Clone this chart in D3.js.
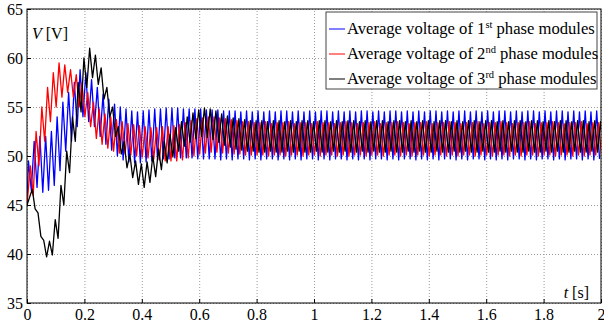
<!DOCTYPE html>
<html>
<head>
<meta charset="utf-8">
<script src="https://cdn.jsdelivr.net/npm/d3@7"></script>
<style>
	body { margin: 0; background: #fff; }
	svg { display: block; }
	text { font-family: 'Liberation Serif', 'DejaVu Serif', serif; }
</style>
</head>
<body>
<script>
// axis ticks
const timeTicks = [0, 0.2, 0.4, 0.6, 0.8, 1, 1.2, 1.4, 1.6, 1.8, 2];
const voltTicks = [35, 40, 45, 50, 55, 60, 65];

// one peak and one trough per 20 ms cycle
const period = 0.02;
const startVoltage = [45, 45, 45];

const bluePeaks = [
	49.5, 51.5, 52, 52, 52.5, 54, 55.5, 56.5, 57.5, 58.8,
	58.5, 57.8, 57, 56.3, 55.8, 55.3, 55, 54.8, 54.6, 54.5,
	54.6, 54.7, 54.8, 54.8, 54.9, 54.9, 54.9, 54.8, 54.8, 54.8,
	54.8, 54.7, 54.7, 54.7, 54.6, 54.6, 54.6, 54.5, 54.6, 54.5,
	54.6, 54.5, 54.6, 54.5, 54.6, 54.6, 54.5, 54.6, 54.5, 54.6,
	54.5, 54.6, 54.6, 54.5, 54.6, 54.5, 54.6, 54.5, 54.6, 54.6,
	54.5, 54.6, 54.5, 54.6, 54.6, 54.5, 54.6, 54.5, 54.6, 54.5,
	54.6, 54.6, 54.5, 54.6, 54.5, 54.6, 54.6, 54.5, 54.6, 54.5,
	54.6, 54.5, 54.6, 54.6, 54.5, 54.6, 54.5, 54.6, 54.6, 54.5,
	54.6, 54.5, 54.6, 54.6, 54.5, 54.6, 54.5, 54.6, 54.5, 54.6
];
const blueTroughs = [
	46.5, 46.8, 46.3, 46.5, 47, 48.5, 50.5, 51.5, 53, 54,
	53.5, 53, 52, 51.2, 50.6, 50, 49.6, 49.4, 49.3, 49.3,
	49.4, 49.5, 49.6, 49.7, 49.7, 49.8, 49.8, 49.8, 49.8, 49.7,
	49.7, 49.7, 49.7, 49.6, 49.7, 49.6, 49.7, 49.7, 49.6, 49.7,
	49.6, 49.7, 49.7, 49.6, 49.7, 49.6, 49.7, 49.6, 49.7, 49.7,
	49.6, 49.7, 49.6, 49.7, 49.7, 49.6, 49.7, 49.6, 49.7, 49.6,
	49.7, 49.7, 49.6, 49.7, 49.6, 49.7, 49.7, 49.6, 49.7, 49.6,
	49.7, 49.6, 49.7, 49.7, 49.6, 49.7, 49.6, 49.7, 49.7, 49.6,
	49.7, 49.6, 49.7, 49.6, 49.7, 49.7, 49.6, 49.7, 49.6, 49.7,
	49.7, 49.6, 49.7, 49.6, 49.7, 49.7, 49.6, 49.7, 49.6, 49.7
];

const redPeaks = [
	49, 52.5, 55, 57, 58.5, 59.5, 59.3, 58.8, 58.3, 57.5,
	56.5, 55.5, 54.8, 54.3, 54, 53.7, 53.5, 53.3, 53.2, 53.1,
	53, 52.9, 52.9, 53, 53, 53.1, 53.2, 53.4, 53.6, 53.8,
	53.9, 54, 54, 53.9, 53.8, 53.7, 53.6, 53.5, 53.5, 53.4,
	53.4, 53.5, 53.3, 53.4, 53.4, 53.5, 53.3, 53.4, 53.4, 53.3,
	53.5, 53.4, 53.4, 53.3, 53.4, 53.5, 53.4, 53.3, 53.4, 53.4,
	53.5, 53.3, 53.4, 53.4, 53.5, 53.4, 53.3, 53.4, 53.4, 53.5,
	53.3, 53.4, 53.4, 53.5, 53.4, 53.3, 53.4, 53.4, 53.5, 53.3,
	53.4, 53.4, 53.5, 53.4, 53.3, 53.4, 53.4, 53.5, 53.3, 53.4,
	53.4, 53.5, 53.4, 53.3, 53.4, 53.4, 53.5, 53.3, 53.4, 53.4
];
const redTroughs = [
	46, 49, 51.5, 53.5, 55, 56, 56.5, 56, 55, 54,
	53, 51.8, 51.2, 50.8, 50.5, 50.3, 50.2, 50.1, 50, 49.9,
	49.8, 49.7, 49.6, 49.5, 49.5, 49.5, 49.6, 49.8, 50, 50.2,
	50.3, 50.4, 50.4, 50.3, 50.3, 50.2, 50.2, 50.1, 50.1, 50.1,
	50.1, 50, 50.1, 50.1, 50, 50.1, 50.1, 50, 50.1, 50.1,
	50, 50.1, 50.1, 50, 50.1, 50, 50.1, 50.1, 50, 50.1,
	50.1, 50, 50.1, 50.1, 50, 50.1, 50, 50.1, 50.1, 50,
	50.1, 50.1, 50, 50.1, 50, 50.1, 50.1, 50, 50.1, 50.1,
	50, 50.1, 50.1, 50, 50.1, 50, 50.1, 50.1, 50, 50.1,
	50.1, 50, 50.1, 50.1, 50, 50.1, 50, 50.1, 50.1, 50
];

const blackPeaks = [
	46.6, 44.2, 41.4, 41.3, 43.5, 47, 50.5, 54, 57.5, 60,
	61, 60.3, 59, 57, 55, 53, 51.5, 50.2, 49.5, 49.2,
	49.4, 50, 50.7, 51.5, 52.2, 52.9, 53.5, 54, 54.4, 54.7,
	54.9, 54.8, 54.6, 54.3, 54.1, 53.9, 53.8, 53.7, 53.6, 53.6,
	53.6, 53.5, 53.6, 53.6, 53.5, 53.6, 53.5, 53.6, 53.6, 53.5,
	53.6, 53.6, 53.5, 53.6, 53.5, 53.6, 53.6, 53.5, 53.6, 53.5,
	53.6, 53.6, 53.5, 53.6, 53.6, 53.5, 53.6, 53.5, 53.6, 53.6,
	53.5, 53.6, 53.6, 53.5, 53.6, 53.5, 53.6, 53.6, 53.5, 53.6,
	53.6, 53.5, 53.6, 53.5, 53.6, 53.6, 53.5, 53.6, 53.6, 53.5,
	53.6, 53.5, 53.6, 53.6, 53.5, 53.6, 53.6, 53.5, 53.6, 53.5
];
const blackTroughs = [
	44.6, 41.8, 39.7, 39.9, 41.6, 45, 48.3, 51.5, 54.5, 57,
	58, 57.3, 55.8, 54, 52, 50.2, 48.8, 47.8, 47.1, 46.8,
	47.3, 47.9, 48.6, 49.3, 49.9, 50.5, 51, 51.4, 51.8, 52,
	51.9, 51.7, 51.4, 51.1, 50.9, 50.7, 50.6, 50.5, 50.5, 50.4,
	50.4, 50.5, 50.4, 50.4, 50.5, 50.4, 50.5, 50.4, 50.4, 50.5,
	50.4, 50.4, 50.5, 50.4, 50.5, 50.4, 50.4, 50.5, 50.4, 50.5,
	50.4, 50.4, 50.5, 50.4, 50.4, 50.5, 50.4, 50.5, 50.4, 50.4,
	50.5, 50.4, 50.4, 50.5, 50.4, 50.5, 50.4, 50.4, 50.5, 50.4,
	50.4, 50.5, 50.4, 50.5, 50.4, 50.4, 50.5, 50.4, 50.4, 50.5,
	50.4, 50.5, 50.4, 50.4, 50.5, 50.4, 50.4, 50.5, 50.4, 50.5
];

const seriesNames = ['1', '2', '3'];
const seriesSup = ['st', 'nd', 'rd'];
const seriesColors = ['#0000ff', '#ff0000', '#000000'];
const seriesPhase = [0, 1 / 3, 2 / 3];

const width = 604;
const height = 325;
const margin = { left: 27, right: 3, top: 9, bottom: 22 };
const plotW = width - margin.left - margin.right;
const plotH = height - margin.top - margin.bottom;
const serif = 'Liberation Serif, DejaVu Serif, serif';

const svg = d3.select('body')
	.append('svg')
	.attr('xmlns', 'http://www.w3.org/2000/svg')
	.attr('width', width)
	.attr('height', height);

const g = svg.append('g')
	.attr('transform', 'translate(' + margin.left + ',' + margin.top + ')');

const xScale = d3.scaleLinear().domain([0, 2]).range([0, plotW]);
const yScale = d3.scaleLinear().domain([35, 65]).range([plotH, 0]);

// grid
const xGrid = d3.axisBottom(xScale).tickValues(timeTicks).tickSize(-plotH).tickFormat(() => '');
const yGrid = d3.axisLeft(yScale).tickValues(voltTicks).tickSize(-plotW).tickFormat(() => '');
g.append('g').attr('transform', 'translate(0,' + plotH + ')').call(xGrid)
	.call((s) => s.select('.domain').remove())
	.selectAll('line').attr('stroke', '#9a9a9a').attr('stroke-dasharray', '1,2');
g.append('g').call(yGrid)
	.call((s) => s.select('.domain').remove())
	.selectAll('line').attr('stroke', '#9a9a9a').attr('stroke-dasharray', '1,2');

// series
g.append('clipPath').attr('id', 'plotClip')
	.append('rect').attr('width', plotW).attr('height', plotH);

function buildSeries(i, peaks, troughs) {
	const pts = [[0, startVoltage[i]]];
	for (let k = 0; k < peaks.length; k++) {
		pts.push([(k + seriesPhase[i] + 0.25) * period, peaks[k]]);
		pts.push([(k + seriesPhase[i] + 0.75) * period, troughs[k]]);
	}
	return pts;
}

const allSeries = [
	buildSeries(0, bluePeaks, blueTroughs),
	buildSeries(1, redPeaks, redTroughs),
	buildSeries(2, blackPeaks, blackTroughs)
];

const line = d3.line()
	.x((d) => xScale(d[0]))
	.y((d) => yScale(d[1]));

g.append('g').attr('clip-path', 'url(#plotClip)')
	.selectAll('path')
	.data(allSeries)
	.enter()
	.append('path')
	.attr('d', line)
	.attr('fill', 'none')
	.attr('stroke', (d, i) => seriesColors[i])
	.attr('stroke-width', 1.3)
	.attr('stroke-linejoin', 'round');

// axes
const xAxis = d3.axisBottom(xScale).tickValues(timeTicks).tickSize(-4).tickPadding(6).tickFormat(d3.format('~g'));
const yAxis = d3.axisLeft(yScale).tickValues(voltTicks).tickSize(-4).tickPadding(4);

const xAxisSel = g.append('g').attr('transform', 'translate(0,' + plotH + ')').call(xAxis);
const yAxisSel = g.append('g').call(yAxis);
[xAxisSel, yAxisSel].forEach((s) => {
	s.attr('font-family', serif).attr('font-size', 16);
	s.select('.domain').remove();
	s.selectAll('.tick line').attr('stroke', '#000');
	s.selectAll('.tick text').attr('fill', '#000');
});
yAxisSel.selectAll('.tick text').attr('dy', '0.35em');

g.append('rect')
	.attr('width', plotW).attr('height', plotH)
	.attr('fill', 'none').attr('stroke', '#000').attr('stroke-width', 1);

// axis names
const vLabel = g.append('text').attr('x', 5).attr('y', 30)
	.attr('font-family', serif).attr('font-size', 16);
vLabel.append('tspan').attr('font-style', 'italic').text('V');
vLabel.append('tspan').text(' [V]');

const tLabel = g.append('text').attr('x', plotW - 12).attr('y', 289).attr('text-anchor', 'end')
	.attr('font-family', serif).attr('font-size', 16);
tLabel.append('tspan').attr('font-style', 'italic').text('t');
tLabel.append('tspan').text(' [s]');

// legend
const legend = svg.append('g').attr('transform', 'translate(326,12)');
legend.append('rect').attr('width', 271).attr('height', 77)
	.attr('fill', '#fff').attr('stroke', '#444').attr('stroke-width', 1);
const rows = legend.selectAll('g.row')
	.data(seriesNames)
	.enter()
	.append('g')
	.attr('class', 'row')
	.attr('transform', (d, i) => 'translate(0,' + (17 + i * 25) + ')');
rows.append('line').attr('x1', 3).attr('x2', 19)
	.attr('stroke', (d, i) => seriesColors[i]).attr('stroke-width', 1);
const rowText = rows.append('text').attr('x', 21).attr('y', 5)
	.attr('font-family', serif).attr('font-size', 16.6);
rowText.append('tspan').text((d) => 'Average voltage of ' + d);
rowText.append('tspan').attr('dy', -6).attr('font-size', 10.5).text((d, i) => seriesSup[i]);
rowText.append('tspan').attr('dy', 6).text(' phase modules');
</script>
</body>
</html>
